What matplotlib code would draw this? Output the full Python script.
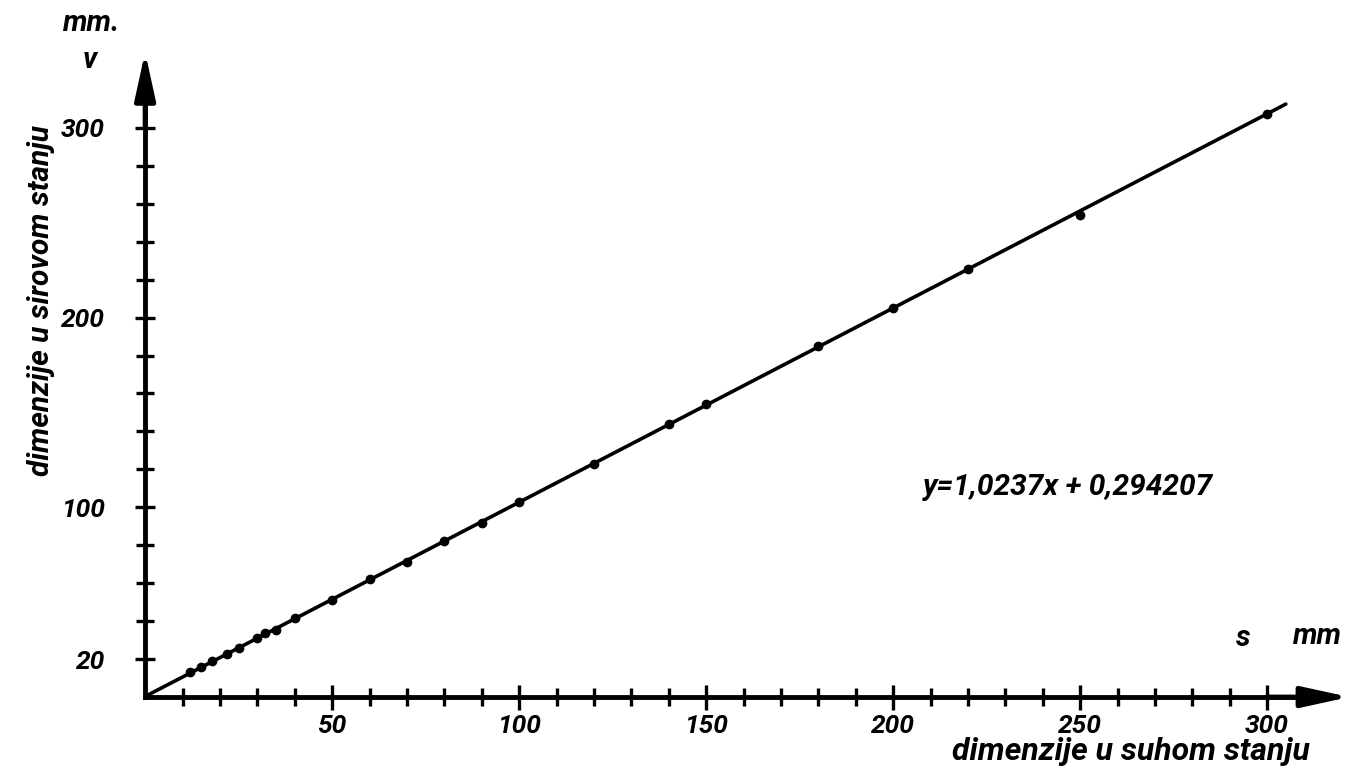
import matplotlib
matplotlib.use('Agg')
import matplotlib.pyplot as plt

# dry size (s) vs raw size (v), in mm
dry_mm = [12, 15, 18, 22, 25, 30, 32, 35, 40, 50, 60, 70, 80, 90, 100,
          120, 140, 150, 180, 200, 220, 250, 300]
raw_mm = [13.0, 16.0, 19.0, 22.8, 26.0, 31.0, 33.5, 35.5, 41.5, 51.0, 62.0,
          71.0, 82.5, 91.5, 103.0, 123.0, 143.8, 154.2, 185.0, 205.0, 225.8,
          254.0, 307.5]

# regression line printed on the chart
slope = 1.0237
intercept = 0.294207
fit_x = [0, 305]

x_ticklabels = [50, 100, 150, 200, 250, 300]
x_minor = list(range(10, 310, 10))
y_ticklabels = [20, 100, 200, 300]
y_minor = list(range(20, 320, 20))

plt.rcParams['font.family'] = ['Roboto', 'DejaVu Sans']
font = dict(fontstyle='italic', fontweight='bold')

fig = plt.figure(figsize=(13.58, 7.75), dpi=100)
ax = fig.add_axes([0, 0, 1, 1])
ax.set_xlim(-38.8, 324.3)
ax.set_ylim(-41.1, 367.4)

# axes drawn as spines through the origin
for side in ['top', 'right']:
    ax.spines[side].set_visible(False)
for side in ['left', 'bottom']:
    ax.spines[side].set_position(('data', 0))
    ax.spines[side].set_linewidth(3.5)
ax.spines['bottom'].set_bounds(0, 315)
ax.spines['left'].set_bounds(0, 330)

# arrow heads
arrow = dict(arrowstyle='-|>,head_length=1.6,head_width=0.35', lw=3.5,
             color='black', mutation_scale=18, shrinkA=0, shrinkB=0)
ax.annotate('', xy=(322, 0), xytext=(300, 0), arrowprops=arrow)
ax.annotate('', xy=(0, 340), xytext=(0, 300), arrowprops=arrow)

ax.set_xticks(x_ticklabels)
ax.set_xticks(x_minor, minor=True)
ax.set_yticks(y_ticklabels)
ax.set_yticks(y_minor, minor=True)
ax.tick_params(axis='x', which='major', direction='inout', length=18,
               width=2.4, pad=3, labelsize=19)
ax.tick_params(axis='x', which='minor', direction='inout', length=13,
               width=2.4)
ax.tick_params(axis='y', which='major', direction='inout', length=14,
               width=2.4, pad=22, labelsize=19)
ax.tick_params(axis='y', which='minor', direction='inout', length=13,
               width=2.4)
for lab in ax.get_xticklabels() + ax.get_yticklabels():
    lab.set_fontstyle('italic')
    lab.set_fontweight('bold')

# regression line and measured points
fit_y = [slope * x + intercept for x in fit_x]
ax.plot(fit_x, fit_y, color='black', lw=2.6, solid_capstyle='round')
ax.plot(dry_mm, raw_mm, 'o', color='black', markersize=6)

# texts
fig.text(1068 / 1358, 1 - 487 / 775, 'y=1,0237x + 0,294207', fontsize=21.5,
         ha='center', va='center', **font)
fig.text(1131 / 1358, 1 - 752 / 775, 'dimenzije u suhom stanju',
         fontsize=23, ha='center', va='center', **font)
fig.text(41 / 1358, 1 - 300 / 775, 'dimenzije u sirovom stanju',
         fontsize=21.5, ha='center', va='center', rotation=90, **font)
fig.text(92 / 1358, 1 - 23 / 775, 'mm.', fontsize=21, ha='center',
         va='center', **font)
fig.text(90 / 1358, 1 - 60 / 775, 'v', fontsize=21, ha='center',
         va='center', **font)
fig.text(1243 / 1358, 1 - 638 / 775, 's', fontsize=21, ha='center',
         va='center', **font)
fig.text(1317 / 1358, 1 - 636 / 775, 'mm', fontsize=21, ha='center',
         va='center', **font)

fig.savefig('out.png', dpi=100, facecolor='white')
